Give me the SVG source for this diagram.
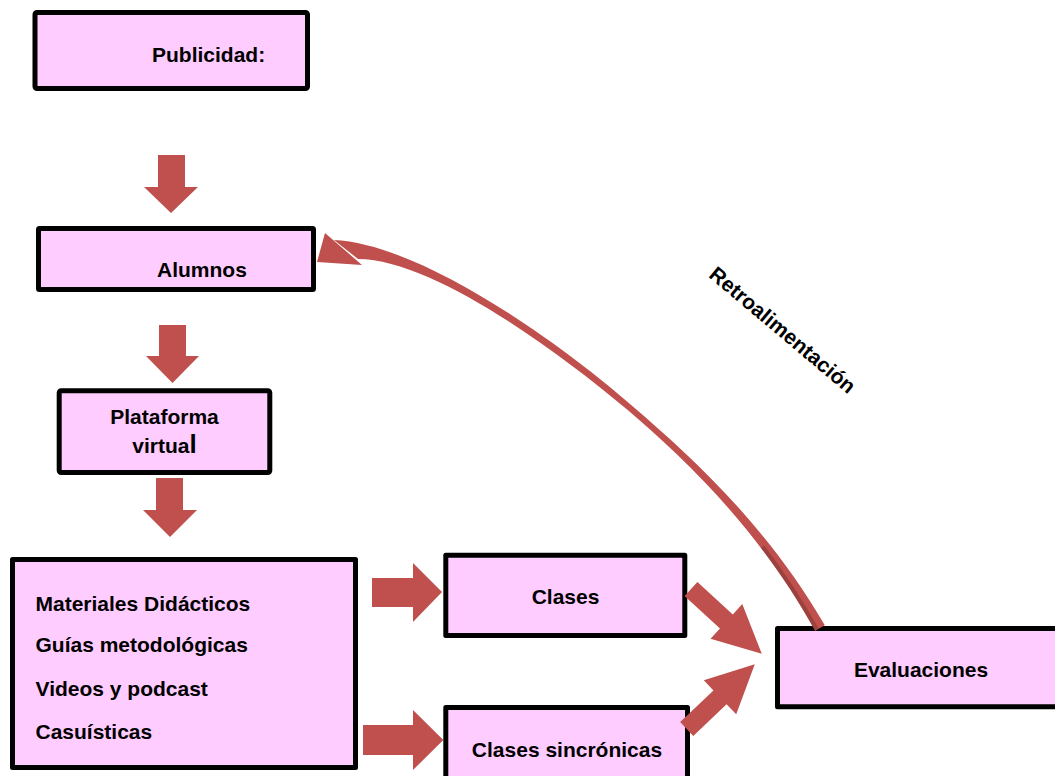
<svg xmlns="http://www.w3.org/2000/svg" width="1055" height="776" viewBox="0 0 1055 776">
<style>
.box{fill:#FFCCFF;stroke:#000;stroke-width:5;stroke-linejoin:round}
.t{font-family:"Liberation Sans",Arial,sans-serif;font-weight:bold;font-size:21px;fill:#000}
.m{text-anchor:middle}
.arr{fill:#C0504D}
</style>
<rect width="1055" height="776" fill="#fff"/>
<g id="node-publicidad"><rect class="box" x="35" y="12.5" width="272.5" height="76" rx="2"/><text class="t" x="152" y="61.5">Publicidad:</text></g>
<g id="node-alumnos"><rect class="box" x="38.5" y="228.5" width="275" height="61" rx="1"/><text class="t" x="157" y="277">Alumnos</text></g>
<g id="node-plataforma"><rect class="box" x="59.2" y="390.8" width="210.6" height="81.7" rx="2"/><text class="t m" x="164.5" y="424">Plataforma</text><text class="t m" x="164.5" y="453">virtua<tspan font-size="26">l</tspan></text></g>
<g id="node-materiales"><rect class="box" x="12.5" y="559.5" width="343" height="208"/>
<text class="t" x="35.5" y="610.5">Materiales Didácticos</text>
<text class="t" x="35.5" y="652">Guías metodológicas</text>
<text class="t" x="35.5" y="695.5">Videos y podcast</text>
<text class="t" x="35.5" y="739">Casuísticas</text></g>
<g id="node-clases"><rect class="box" x="445.8" y="555.2" width="239" height="80.3"/><text class="t m" x="565.5" y="604">Clases</text></g>
<g id="node-sincronicas"><rect class="box" x="445.8" y="707.5" width="241.7" height="80"/><text class="t m" x="567" y="757">Clases sincrónicas</text></g>
<g id="node-evaluaciones"><rect class="box" x="777.5" y="628.5" width="300" height="78.3"/><text class="t m" x="921" y="677">Evaluaciones</text></g>
<g id="connectors">
<polygon class="arr" points="158,155 185,155 185,187 198,187 171,213 144,187 158,187"/>
<polygon class="arr" points="159,325 186,325 186,356 199,356 172.5,383 146,356 159,356"/>
<polygon class="arr" points="156,478 183,478 183,510 197,510 170,537 143,510 156,510"/>
<polygon class="arr" points="372,578 413,578 413,563 442,592 413,622 413,607 372,607"/>
<polygon class="arr" points="363,725 413,725 413,710 443.3,740 413,770 413,755 363,755"/>
<polygon class="arr" transform="translate(691,589) rotate(42.5)" points="0,-9.5 48,-9.5 48,-23.5 96,0 48,23.5 48,9.5 0,9.5"/>
<polygon class="arr" transform="translate(686.7,729) rotate(-43.6)" points="0,-9.5 46,-9.5 46,-23.5 94,0 46,23.5 46,9.5 0,9.5"/>
<path class="arr" d="M824.8,625.3 C766.9,525 689,454.5 632,405.7 C556.6,340 420,244 334,240 L358,259 C430,259 551.4,346 628,410.3 C685,459 759.1,529.5 815.2,630.7 Z"/>
<path d="M816.9,629.7 C800.1,599.3 781.7,571.7 762.6,546.7" fill="none" stroke="#8B3A37" stroke-width="4" stroke-opacity="0.7"/>
<polygon class="arr" points="325,233 317,262 362,265"/>
<text class="t m" x="778" y="335.5" transform="rotate(40 778 335.5)">Retroalimentación</text>
</g>
</svg>
